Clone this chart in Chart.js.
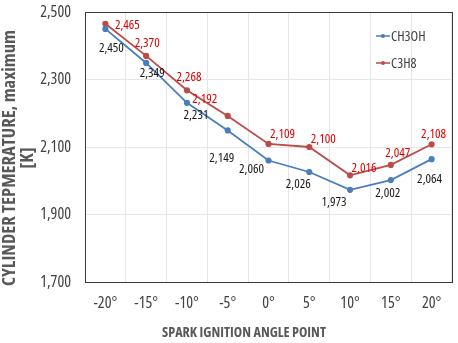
<!DOCTYPE html>
<html>
<head>
<meta charset="utf-8">
<script src="https://cdn.jsdelivr.net/npm/chart.js@4/dist/chart.umd.min.js"></script>
<style>
  html, body { margin: 0; padding: 0; background: #fff; }
  #wrap { width: 458px; height: 343px; position: relative; }
</style>
</head>
<body>
<div id="wrap"><canvas id="chart"></canvas></div>
<script>
const angles = ['-20°', '-15°', '-10°', '-5°', '0°', '5°', '10°', '15°', '20°'];
const ch3oh = [2450, 2349, 2231, 2149, 2060, 2026, 1973, 2002, 2064];
const c3h8 = [2465, 2370, 2268, 2192, 2109, 2100, 2016, 2047, 2108];
const yTicks = [1700, 1900, 2100, 2300, 2500];
const xTitle = 'SPARK IGNITION ANGLE POINT';
const yTitle = ['CYLINDER TEPMERATURE, maximum', '[K]'];

const FONT = '"Open Sans", sans-serif';
const BLUE = '#4a7ebb';
const RED = '#be4b48';

// label offsets (dx, dy) from each point
const blueOff = [[6, 19], [6, 10], [9, 13], [-6, 28], [-17, 9], [-11, 12], [-16, 12], [-3, 13], [-2, 20]];
const redOff = [[22, 1], [1, -13], [2, -13], [-23, -17], [14, -10], [14, -8], [14, -7], [7, -12], [2, -10]];

const fmt = (v) => v.toLocaleString('en-US');

// pick a font size so the text runs the given width
function fitFont(ctx, text, weight, width) {
    ctx.font = weight + ' condensed 20px ' + FONT;
    const size = 20 * width / ctx.measureText(text).width;
    return weight + ' condensed ' + size.toFixed(2) + 'px ' + FONT;
}

const labelPlugin = {
    id: 'pointLabels',
    afterDatasetsDraw(chart) {
        const ctx = chart.ctx;
        ctx.save();
        ctx.font = 'condensed 13px ' + FONT;
        ctx.textAlign = 'center';
        ctx.textBaseline = 'middle';
        [[0, blueOff, '#1a1a1a'], [1, redOff, '#e00000']].forEach(([i, offs, color]) => {
            const meta = chart.getDatasetMeta(i);
            const vals = chart.data.datasets[i].data;
            ctx.fillStyle = color;
            meta.data.forEach((pt, j) => {
                ctx.fillText(fmt(vals[j]), pt.x + offs[j][0], pt.y + offs[j][1]);
            });
        });
        ctx.restore();
    },
};

const framePlugin = {
    id: 'frame',
    afterDraw(chart) {
        const { ctx, chartArea: a } = chart;
        ctx.save();
        ctx.strokeStyle = '#3a3a3a';
        ctx.lineWidth = 1;
        ctx.strokeRect(Math.round(a.left) + 0.5, Math.round(a.top) + 0.5,
            Math.round(a.right - a.left), Math.round(a.bottom - a.top));

        // legend inside the plot, top right
        ctx.font = 'condensed 14px ' + FONT;
        ctx.textBaseline = 'middle';
        ctx.textAlign = 'left';
        chart.data.datasets.forEach((ds, i) => {
            const y = a.top + 24 + i * 27;
            const x = a.right - 76;
            ctx.strokeStyle = ds.borderColor;
            ctx.lineWidth = 1.5;
            ctx.beginPath();
            ctx.moveTo(x, y);
            ctx.lineTo(x + 14, y);
            ctx.stroke();
            ctx.fillStyle = ds.borderColor;
            ctx.beginPath();
            ctx.arc(x + 7, y, 2, 0, Math.PI * 2);
            ctx.fill();
            ctx.fillStyle = '#404040';
            ctx.fillText(ds.label, x + 15, y + 1);
        });

        // axis titles
        ctx.fillStyle = '#595959';
        ctx.textAlign = 'center';
        ctx.font = fitFont(ctx, xTitle, 'bold', 164);
        ctx.fillText(xTitle, 244, 333);

        const yFont = fitFont(ctx, yTitle[0], 'bold', 256);
        ctx.translate(0, 158);
        ctx.rotate(-Math.PI / 2);
        ctx.font = yFont;
        ctx.fillText(yTitle[0], 0, 10);
        ctx.fillText(yTitle[1], 0, 28);
        ctx.restore();
    },
};

// Chart.js prepends weight to the font string, so the stretch keyword rides along there
const tickFont = { family: FONT, size: 16, weight: 'condensed' };

new Chart(document.getElementById('chart').getContext('2d'), {
    type: 'line',
    data: {
        labels: angles,
        datasets: [
            {
                label: 'CH3OH',
                data: ch3oh,
                borderColor: BLUE,
                backgroundColor: BLUE,
                borderWidth: 1.8,
                pointRadius: 2.2,
                pointHoverRadius: 2.2,
                tension: 0,
            },
            {
                label: 'C3H8',
                data: c3h8,
                borderColor: RED,
                backgroundColor: RED,
                borderWidth: 1.8,
                pointRadius: 2.2,
                pointHoverRadius: 2.2,
                tension: 0,
            },
        ],
    },
    options: {
        responsive: true,
        maintainAspectRatio: false,
        animation: false,
        devicePixelRatio: 1,
        layout: { padding: { top: 12, right: 6, left: 0, bottom: 0 } },
        plugins: {
            legend: { display: false },
            tooltip: { enabled: false },
        },
        scales: {
            x: {
                offset: true,
                grid: { offset: true, color: '#e6e6e6', drawTicks: false },
                border: { color: '#3a3a3a' },
                ticks: { color: '#404040', font: tickFont, padding: 12, maxRotation: 0 },
                afterFit: (s) => {
                    s.height = 61;
                    s.paddingLeft = 0;
                    s.paddingRight = 0;
                },
            },
            y: {
                min: yTicks[0],
                max: yTicks[yTicks.length - 1],
                afterBuildTicks: (s) => { s.ticks = yTicks.map((v) => ({ value: v })); },
                grid: { color: '#e6e6e6', drawTicks: false },
                border: { color: '#3a3a3a' },
                ticks: { color: '#404040', font: tickFont, padding: 14, callback: (v) => fmt(v) },
                afterFit: (s) => {
                    s.width = 85;
                    s.paddingTop = 0;
                    s.paddingBottom = 0;
                },
            },
        },
    },
    plugins: [labelPlugin, framePlugin],
});
</script>
</body>
</html>
